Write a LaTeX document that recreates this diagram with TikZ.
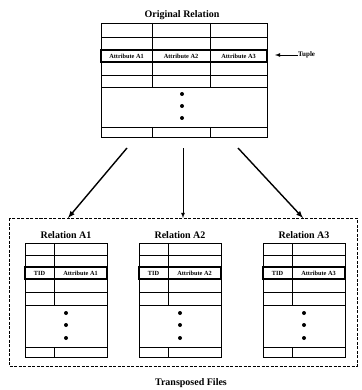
\documentclass[tikz,border=0pt]{standalone}
\usepackage{fontspec}
\setmainfont{Liberation Serif}
\usepackage{tikz}
\usetikzlibrary{calc}

\tikzset{
    title/.style={font=\fontsize{10}{12}\selectfont\bfseries},
    cell/.style={font=\fontsize{6.3}{7}\selectfont\bfseries, inner sep=0pt},
    tuplerow/.style={line width=1.6pt},
    spread/.style={line width=1.4pt, -latex}
}

\begin{document}
\begin{tikzpicture}[x=1pt,y=-1pt]
            \useasboundingbox (0,0) rectangle (361,390);
            % original relation
            \node[title] (origtitle) at (182,15) {Original Relation};
            \draw[thick] (101,23) rectangle (267,137);
            \foreach \y in {37,50,62,75,87,127}
                \draw (101,\y) -- (267,\y);
            \foreach \x in {152,210} {
                \draw (\x,23) -- (\x,87);
                \draw (\x,127) -- (\x,137);
            }
            \draw[tuplerow] (101,50) rectangle (267,62);
            \node[cell] (attrA1) at (126.5,56) {Attribute A1};
            \node[cell] (attrA2) at (181,56) {Attribute A2};
            \node[cell] (attrA3) at (238.5,56) {Attribute A3};
            \foreach \y in {94,106,118}
                \fill (182,\y) circle (2);
            % tuple label
            \node[cell, font=\fontsize{7}{8}\selectfont\bfseries, anchor=west] (tuple) at (298,55) {Tuple};
            \coordinate (tupleend) at (275,55);
            \draw[thick, -latex] (tuple.west) -- (tupleend);
            % transposed files
            \draw[dashed, thick, dash pattern=on 3pt off 1.5pt] (9,218) rectangle (357,366);
            \node[title] (files) at (191,383) {Transposed Files};
            \foreach \cx/\a in {66/1,180/2,304/3} {
                \node[title] (rel\a) at (\cx,235) {Relation A\a};
                \draw[thick] (\cx-41,243) rectangle (\cx+41,357);
                \foreach \y in {255,267,279,292,305,347}
                    \draw (\cx-41,\y) -- (\cx+41,\y);
                \draw (\cx-12,243) -- (\cx-12,305);
                \draw (\cx-12,347) -- (\cx-12,357);
                \draw[tuplerow] (\cx-41,267) rectangle (\cx+41,279);
                \node[cell] (tid\a) at (\cx-26.5,273) {TID};
                \node[cell] (col\a) at (\cx+14.5,273) {Attribute A\a};
                \foreach \y in {313,325,338}
                    \fill (\cx,\y) circle (2);
            }
            % arrows to the files
            \coordinate (fromA1) at (127,148);
            \coordinate (fromA2) at (183,148);
            \coordinate (fromA3) at (238,148);
            \coordinate (toA1) at (68,218);
            \coordinate (toA2) at (183,218);
            \coordinate (toA3) at (303,218);
            \draw[spread] (fromA1) -- (toA1);
            \draw[thick, -latex] (fromA2) -- (toA2);
            \draw[spread] (fromA3) -- (toA3);
        \end{tikzpicture}
\end{document}
